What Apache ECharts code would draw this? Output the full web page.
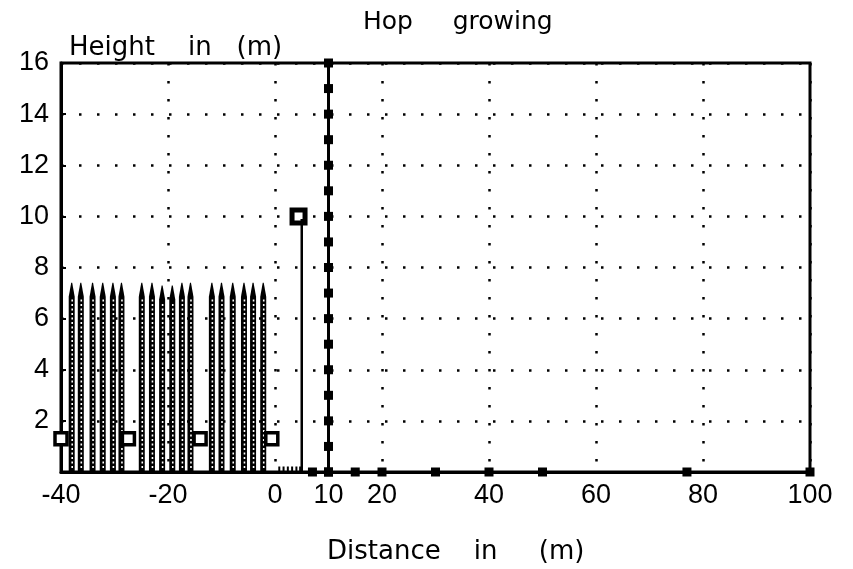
<!DOCTYPE html>
<html>
<head>
<meta charset="utf-8">
<title>Hop growing</title>
<script src="https://cdn.jsdelivr.net/npm/echarts@6/dist/echarts.min.js"></script>
<style>
html, body { margin: 0; padding: 0; background: #fff; }
#chart { width: 853px; height: 569px; }
</style>
</head>
<body>
<div id="chart"></div>
<script>
// hop plants: position along the row and height of the vine
const plantX = [-38.0, -36.3, -34.1, -32.2, -30.3, -28.7,
                -24.9, -23.0, -21.1, -19.2, -17.4, -15.8,
                -11.8, -10.0, -7.9, -5.8, -4.1, -2.2]
const plantTop = [7.4, 7.4, 7.4, 7.4, 7.4, 7.4,
                  7.4, 7.4, 7.3, 7.3, 7.4, 7.4,
                  7.4, 7.4, 7.4, 7.4, 7.4, 7.4]
// squares at the foot of the rows
const baseX = [-40, -27.4, -14, -0.6]
const baseY = [1.3, 1.3, 1.3, 1.3]
// single pole with its top
const poleX = [5, 5]
const poleY = [0, 9.9]
const poleTopX = [4.4]
const poleTopY = [10]
// tower at x = 10
const towerX = 10
const towerY = [0, 1, 2, 3, 4, 5, 6, 7, 8, 9, 10, 11, 12, 13, 14, 15, 16]
// ground markers
const groundX = [7, 10, 15, 20, 30, 40, 50, 77, 100]
const hatchX = [0.8, 1.6, 2.4, 3.2, 4.0, 4.7]
// tick labels
const xLabels = [-40, -20, 0, 10, 20, 40, 60, 80, 100]

const chart = echarts.init(document.getElementById('chart'))
const font = 'Liberation Sans'
const dotted = { color: '#000', width: 2.5, type: [2.5, 15.5] }

function plantItem(params, api) {
    const x = api.value(0)
    const top = api.coord([x, api.value(1)])
    const bot = api.coord([x, 0])
    const cx = top[0]
    const t = top[1]
    const b = bot[1]
    return {
        type: 'group',
        children: [{
                type: 'polygon',
                shape: { points: [[cx - 3, b], [cx - 3, t + 14], [cx - 0.5, t], [cx + 0.5, t], [cx + 3, t + 14], [cx + 3, b]] },
                style: { fill: '#000' }
            },
            {
                type: 'line',
                shape: { x1: cx + 0.5, y1: b - 4, x2: cx + 0.5, y2: t + 16 },
                style: { stroke: '#fff', lineWidth: 1.6, lineDash: [2, 2.5] }
            }
        ]
    }
}

const option = {
    animation: false,
    backgroundColor: '#fff',
    title: [{
            text: 'Hop     growing',
            left: 358,
            top: 5,
            textStyle: { fontFamily: 'DejaVu Sans', fontSize: 25, fontWeight: 'normal', color: '#000' }
        },
        {
            text: 'Height    in   (m)',
            left: 64,
            top: 30,
            textStyle: { fontFamily: 'DejaVu Sans', fontSize: 26, fontWeight: 'normal', color: '#000' }
        },
        {
            text: 'Distance    in     (m)',
            left: 322,
            top: 534,
            textStyle: { fontFamily: 'DejaVu Sans', fontSize: 26, fontWeight: 'normal', color: '#000' }
        }
    ],
    grid: {
        left: 61,
        right: 43,
        top: 63,
        bottom: 97,
        show: true,
        borderColor: '#000',
        borderWidth: 3
    },
    xAxis: {
        type: 'value',
        min: -40,
        max: 100,
        interval: 20,
        axisLine: { onZero: false, lineStyle: { color: '#000', width: 3 } },
        axisTick: { show: false },
        axisLabel: {
            customValues: xLabels,
            margin: 10,
            color: '#000',
            fontFamily: font,
            fontSize: 27
        },
        splitLine: { show: true, lineStyle: dotted }
    },
    yAxis: {
        type: 'value',
        min: 0,
        max: 16,
        interval: 2,
        axisLine: { show: true, onZero: false, lineStyle: { color: '#000', width: 3 } },
        axisTick: { show: true, inside: true, length: 5, lineStyle: { color: '#000', width: 2 } },
        axisLabel: {
            margin: 12,
            color: '#000',
            fontFamily: font,
            fontSize: 27,
            formatter: v => (v === 0 ? '' : v)
        },
        splitLine: { show: true, lineStyle: dotted }
    },
    series: [{
            type: 'custom',
            renderItem: plantItem,
            clip: false,
            data: plantX.map((x, i) => [x, plantTop[i]])
        },
        {
            type: 'line',
            symbol: 'none',
            lineStyle: { color: '#000', width: 2.5 },
            data: poleX.map((x, i) => [x, poleY[i]])
        },
        {
            type: 'line',
            symbol: 'rect',
            symbolSize: 9,
            clip: false,
            itemStyle: { color: '#000' },
            lineStyle: { color: '#000', width: 3 },
            data: towerY.map(y => [towerX, y])
        },
        {
            type: 'scatter',
            symbol: 'rect',
            symbolSize: 12,
            clip: false,
            itemStyle: { color: '#fff', borderColor: '#000', borderWidth: 3.5, opacity: 1 },
            data: baseX.map((x, i) => [x, baseY[i]])
        },
        {
            type: 'scatter',
            symbol: 'rect',
            symbolSize: 13,
            clip: false,
            itemStyle: { color: '#fff', borderColor: '#000', borderWidth: 5, opacity: 1 },
            data: poleTopX.map((x, i) => [x, poleTopY[i]])
        },
        {
            type: 'scatter',
            symbol: 'rect',
            symbolSize: 9,
            clip: false,
            itemStyle: { color: '#000', opacity: 1 },
            data: groundX.map(x => [x, 0])
        },
        {
            type: 'scatter',
            symbol: 'rect',
            symbolSize: [2, 7],
            symbolOffset: [0, -2],
            clip: false,
            itemStyle: { color: '#000', opacity: 1 },
            data: hatchX.map(x => [x, 0])
        }
    ]
}

chart.setOption(option)
</script>
</body>
</html>
